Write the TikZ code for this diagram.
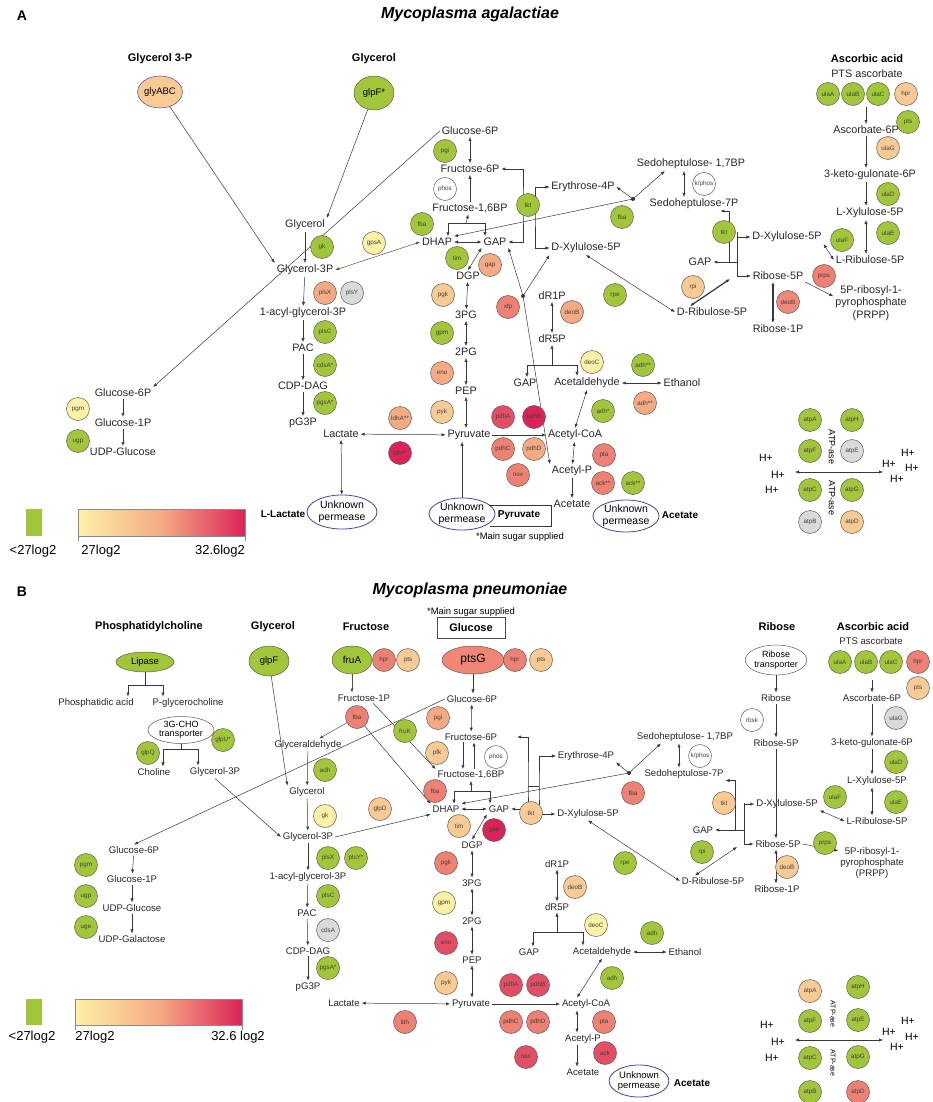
\documentclass[tikz,border=0pt]{standalone}
\usepackage{fontspec}
\setmainfont{Liberation Sans}
\usepackage{tikz}
\usetikzlibrary{arrows.meta,shapes.geometric,calc}
\definecolor{geneGreen}{RGB}{162,198,58}
\definecolor{geneGray}{RGB}{218,218,218}
\definecolor{lvYel}{RGB}{253,241,165}
\definecolor{lvOrL}{RGB}{250,202,148}
\definecolor{lvOr}{RGB}{245,170,132}
\definecolor{lvSal}{RGB}{238,128,116}
\definecolor{lvRed}{RGB}{228,78,100}
\definecolor{lvCrim}{RGB}{218,36,88}
\definecolor{lineDark}{RGB}{55,55,55}
\definecolor{rimGray}{RGB}{90,90,90}
\definecolor{permBlue}{RGB}{75,65,165}
\definecolor{rxBrown}{RGB}{100,80,45}
\newcommand{\fsA}{\fontsize{10.8}{12.5}\selectfont}
\newcommand{\fsB}{\fontsize{9.6}{11}\selectfont}
\tikzset{
  metA/.style={font=\fsA, inner sep=0.5pt, outer sep=1.5pt, text=black!85, align=center},
  metB/.style={font=\fsB, inner sep=0.5pt, outer sep=1.5pt, text=black!85, align=center},
  hdr/.style={font=\bfseries\fontsize{11}{13}\selectfont},
  sideLbl/.style={font=\bfseries\fontsize{10}{12}\selectfont},
  gene/.style={circle, draw=rimGray, line width=0.5pt, fill=white, minimum size=23pt,
    inner sep=0pt, font=\fontsize{6.3}{7}\selectfont, text=black!75},
  tport/.style={ellipse, draw=rimGray, line width=0.5pt, inner sep=0pt,
    font=\fontsize{9.5}{11}\selectfont, align=center},
  perm/.style={ellipse, draw=permBlue, line width=0.8pt, fill=white, inner sep=0pt, align=center},
  rx/.style={-{Latex[length=4pt,width=3.2pt]}, draw=lineDark, line width=0.5pt},
  rxx/.style={{Latex[length=4pt,width=3.2pt]}-{Latex[length=4pt,width=3.2pt]}, draw=lineDark, line width=0.5pt},
  ln/.style={draw=lineDark, line width=0.5pt},
  hion/.style={font=\fontsize{10.5}{12}\selectfont},
  legTxt/.style={font=\fontsize{13}{15}\selectfont}
}
\begin{document}
\begin{tikzpicture}[x=1pt, y=-1pt]
\useasboundingbox (0,0) rectangle (933,1102);

%%%%%%%%%%%%%%%% panel A
\node[font=\bfseries\fontsize{14}{16}\selectfont] (aLetter) at (22,16) {A};
\node[font=\bfseries\itshape\fontsize{16}{18}\selectfont] (aTitle) at (470,14) {Mycoplasma agalactiae};
\node[hdr] (aHdrG3P) at (160,59) {Glycerol 3-P};
\node[hdr] (aHdrGly) at (374,59) {Glycerol};
\node[hdr] (aHdrAsc) at (867,59) {Ascorbic acid};
\node[metA] (aPTS) at (867,74) {PTS ascorbate};

% metabolites
\node[metA] (aG6P)   at (470,131) {Glucose-6P};
\node[metA] (aF6P)   at (470,169) {Fructose-6P};
\node[metA] (aF16BP) at (470,208) {Fructose-1,6BP};
\node[metA] (aDHAP)  at (437,242) {DHAP};
\node[metA] (aGAP)   at (495,242) {GAP};
\node[metA] (aDGP)   at (468,276) {DGP};
\node[metA] (a3PG)   at (466,315) {3PG};
\node[metA] (a2PG)   at (466,352) {2PG};
\node[metA] (aPEP)   at (466,391) {PEP};
\node[metA] (aPyr)   at (469,435) {Pyruvate};
\node[metA] (aLac)   at (341,434) {Lactate};
\node[metA] (aAcCoA) at (575,435) {Acetyl-CoA};
\node[metA] (aAcP)   at (572,471) {Acetyl-P};
\node[metA] (aAce)   at (572,504) {Acetate};
\node[metA] (aGAP2)  at (525,383) {GAP};
\node[metA] (aAcald) at (587,383) {Acetaldehyde};
\node[metA] (aEtOH)  at (682,383) {Ethanol};
\node[metA] (adR1P)  at (552,296) {dR1P};
\node[metA] (adR5P)  at (552,339) {dR5P};
\node[metA] (aE4P)   at (583,187) {Erythrose-4P};
\node[metA] (aXu5P)  at (586,248) {D-Xylulose-5P};
\node[metA] (aS17BP) at (691,164) {Sedoheptulose- 1,7BP};
\node[metA] (aS7P)   at (694,204) {Sedoheptulose-7P};
\node[metA] (aGAP3)  at (700,262) {GAP};
\node[metA] (aXu5Pb) at (787,237) {D-Xylulose-5P};
\node[metA] (aR5P)   at (778,276) {Ribose-5P};
\node[metA] (aRu5P)  at (712,312) {D-Ribulose-5P};
\node[metA] (aR1P)   at (778,329) {Ribose-1P};
\node[metA] (aPRPP)  at (871,303) {5P-ribosyl-1-\\pyrophosphate\\(PRPP)};
\node[metA] (aAsc6P) at (866,130) {Ascorbate-6P};
\node[metA] (aKG6P)  at (870,175) {3-keto-gulonate-6P};
\node[metA] (aLXu5P) at (870,213) {L-Xylulose-5P};
\node[metA] (aLRu5P) at (870,260) {L-Ribulose-5P};
\node[metA] (aGlyc)  at (305,225) {Glycerol};
\node[metA] (aG3P)   at (305,270) {Glycerol-3P};
\node[metA] (aAGP)   at (303,313) {1-acyl-glycerol-3P};
\node[metA] (aPAC)   at (303,348) {PAC};
\node[metA] (aCDP)   at (303,386) {CDP-DAG};
\node[metA] (apG3P)  at (303,423) {pG3P};
\node[metA] (aG6Pl)  at (123,393) {Glucose-6P};
\node[metA] (aG1P)   at (123,423) {Glucose-1P};
\node[metA] (aUDPG)  at (123,452) {UDP-Glucose};

% transporters
\node[tport, fill=lvOrL, draw=permBlue, minimum width=40pt, minimum height=32pt] (aglyABC) at (160,92) {glyABC};
\node[tport, fill=geneGreen, minimum width=40pt, minimum height=34pt] (aglpF) at (374,93) {glpF*};
\node[perm, font=\fontsize{10.5}{11.5}\selectfont, minimum width=70pt, minimum height=34pt] (aPermL) at (342,512) {Unknown\\permease};
\node[perm, font=\fontsize{10.5}{11.5}\selectfont, minimum width=62pt, minimum height=32pt] (aPermP) at (462,514) {Unknown\\permease};
\node[perm, font=\fontsize{10.5}{11.5}\selectfont, minimum width=58pt, minimum height=32pt] (aPermA) at (626,516) {Unknown\\permease};
\node[sideLbl] (aLblLac) at (283,514) {L-Lactate};
\node[sideLbl] (aLblPyr) at (519,515) {Pyruvate};
\node[sideLbl] (aLblAce) at (680,515) {Acetate};
\node[font=\fontsize{9.4}{11}\selectfont] (aNote) at (520,537) {*Main sugar supplied};

% connectors
\coordinate (aBrM) at (466,223);
\coordinate (aBrL) at (448,223);
\coordinate (aBrR) at (485,223);
\coordinate (aBr2M) at (552,365);
\coordinate (aBr2L) at (527,365);
\coordinate (aBr2R) at (577,365);
\coordinate (aTkL) at (523,205);
\coordinate (aTkR) at (535,205);
\coordinate (aTk2L) at (729,232);
\coordinate (aTk2R) at (737,232);
\coordinate (aDot1) at (523,296);
\coordinate (aDot2) at (633,199);
\coordinate (aRuJ) at (730,279);
\coordinate (aAscIn) at (866,107);
\coordinate (aBoxTL) at (489,505);
\coordinate (aBoxBL) at (490,526);
\coordinate (aAtpL) at (795,472);
\coordinate (aAtpR) at (883,472);

\draw[rx] (aglyABC) -- (aG3P.north west);
\draw[rx] (aglpF) -- (aGlyc.north east);
\draw[rx] (aGlyc) -- (aG3P);
\draw[rx] (aG6P.west) -- (aG6Pl.north east);
\draw[rxx, draw=rxBrown] (aG3P.east) -- (aDHAP.west);
\draw[rx] (aG3P) -- (aAGP);
\draw[rx] (aAGP) -- (aPAC);
\draw[rx] (aPAC) -- (aCDP);
\draw[rx] (aCDP) -- (apG3P);
\draw[rx] (aG6Pl) -- (aG1P);
\draw[rx] (aG1P) -- (aUDPG);
\draw[rxx] (aG6P) -- (aF6P);
\draw[rx] (aF16BP) -- (aF6P);
\draw[ln] (aBrL) -- (aBrR);
\draw[rx] (aBrM) -- (aF16BP);
\draw[rx] (aBrL) -- (aBrL |- aDHAP.north);
\draw[rx] (aBrR) -- (aBrR |- aGAP.north);
\draw[rxx] (aDHAP) -- (aGAP);
\draw[rxx] (aGAP.south west) -- (aDGP.north);
\draw[rxx] (aDGP) -- (a3PG);
\draw[rxx] (a3PG) -- (a2PG);
\draw[rxx] (a2PG) -- (aPEP);
\draw[rxx] (aPEP) -- (aPEP |- aPyr.north);
\draw[rxx] (aLac) -- (aPyr);
\draw[rxx] (aLac) -- (aPermL);
\draw[rx] (aPermP) -- (aPermP |- aPyr.south);
\draw[ln] (aBoxTL) -- (aBoxTL -| aAce.west) -- (aBoxBL -| aAce.west) -- (aBoxBL);
\draw[rx] (aPyr) -- (aAcCoA);
\draw[rxx] (aAcCoA) -- (aAcP);
\draw[rx] (aAcP) -- (aAce);
\draw[rxx] (aAcald.south) -- (aAcCoA.north);
\draw[rxx] (aAcald) -- (aEtOH);
\draw[rxx] (adR1P) -- (adR5P);
\draw[rx] (aBr2M) -- (adR5P);
\draw[ln] (aBr2L) -- (aBr2R);
\draw[rx] (aBr2L) -- (aBr2L |- aGAP2.north);
\draw[rx] (aBr2R) -- (aBr2R |- aAcald.north);
\fill[lineDark] (aDot1) circle (2pt);
\draw[rx] (aDot1) -- (aGAP.south east);
\draw[rx] (aDot1) -- (aXu5P.south west);
\draw[rx] (aDot1) -- (aAcP.north west);
\draw[rxx] (aGAP.east) -| (aTkL) |- (aF6P.east);
\draw[rxx] (aE4P.west) -| (aTkR) |- (aXu5P.west);
\draw[ln] (aTkL) -- (aTkR);
\fill[lineDark] (aDot2) circle (2pt);
\draw[rx] (aDot2) -- (aDHAP.north east);
\draw[rx] (aDot2) -- (aE4P.east);
\draw[rx] (aDot2) -- (aS17BP.195);
\draw[rxx] ([xshift=-7pt]aS17BP.south) -- ([xshift=-10pt]aS7P.north);
\draw[rxx] (aGAP3.east) -| (aTk2L) |- ([xshift=-20pt]aS7P.south east);
\draw[rxx] (aXu5Pb.west) -| (aTk2R) |- (aR5P.west);
\draw[ln] (aTk2L |- aGAP3) -- (aTk2R |- aGAP3);
\draw[rxx, line width=1.2pt] ([xshift=-22pt]aRu5P.north) -- (aRuJ);
\draw[rxx] (aXu5P.south) -- (aRu5P.west);
\draw[rxx, line width=1.2pt] ([xshift=-5pt]aR5P.south) -- ([xshift=-5pt]aR1P.north);
\draw[rx] (aR5P.south east) -- (aPRPP.170);
\draw[rx] (aAscIn) -- (aAsc6P);
\draw[rx] (aAsc6P) -- (aAsc6P |- aKG6P.north);
\draw[rx] (aAsc6P |- aKG6P.south) -- (aAsc6P |- aLXu5P.north);
\draw[rxx] (aAsc6P |- aLXu5P.south) -- (aAsc6P |- aLRu5P.north);
\draw[rxx] (aLRu5P.west) -- (aXu5Pb.south east);
\draw[rxx] (aAtpL) -- (aAtpR);

% enzymes
\node[gene, fill=geneGreen] (apgi) at (445,151) {pgi};
\node[gene] (aphos) at (445,189) {phos};
\node[gene, fill=geneGreen] (afba) at (422,224) {fba};
\node[gene, fill=geneGreen] (atim) at (457,258) {tim};
\node[gene, fill=lvOr] (agap) at (490,265) {gap};
\node[gene, fill=lvOrL] (apgk) at (443,295) {pgk};
\node[gene, fill=geneGreen] (agpm) at (442,333) {gpm};
\node[gene, fill=lvOr] (aeno) at (442,373) {eno};
\node[gene, fill=lvOrL] (apyk) at (442,412) {pyk};
\node[gene, fill=lvOr] (aldhA) at (400,418) {ldhA**};
\node[gene, fill=lvCrim] (aldh) at (400,453) {ldh**};
\node[gene, fill=lvRed] (apdhA) at (503,417) {pdhA};
\node[gene, fill=lvCrim] (apdhB) at (534,417) {pdhB};
\node[gene, fill=lvSal] (apdhC) at (503,449) {pdhC};
\node[gene, fill=lvOr] (apdhD) at (534,449) {pdhD};
\node[gene, fill=lvSal] (anox) at (518,475) {nox};
\node[gene, fill=lvSal] (apta) at (604,455) {pta};
\node[gene, fill=lvSal] (aackA) at (603,483) {ack**};
\node[gene, fill=geneGreen] (aackB) at (633,483) {ack**};
\node[gene, fill=geneGreen] (aadhA) at (643,365) {adh**};
\node[gene, fill=lvOr] (aadhB) at (645,403) {adh**};
\node[gene, fill=geneGreen] (aadhC) at (603,411) {adh*};
\node[gene, fill=lvYel] (adeoC) at (592,362) {deoC};
\node[gene, fill=lvOr] (adeoB) at (572,312) {deoB};
\node[gene, fill=lvSal] (axfp) at (508,307) {xfp};
\node[gene, fill=geneGreen] (atkt) at (528,205) {tkt};
\node[gene, fill=geneGreen] (afbaB) at (622,217) {fba};
\node[gene, fill=geneGreen] (arpe) at (615,295) {rpe};
\node[gene] (akphos) at (704,184) {k/phos};
\node[gene, fill=geneGreen] (atktB) at (724,232) {tkt};
\node[gene, fill=lvOrL] (arpi) at (693,287) {rpi};
\node[gene, fill=lvSal] (aprps) at (824,276) {prps};
\node[gene, fill=lvSal!80!lvOr] (adeoBB) at (788,302) {deoB};
\node[gene, fill=geneGreen] (agk) at (322,247) {gk};
\node[gene, fill=lvYel] (agpsA) at (374,243) {gpsA};
\node[gene, fill=lvOr] (aplsX) at (325,293) {plsX};
\node[gene, fill=geneGray] (aplsY) at (352,293) {plsY};
\node[gene, fill=geneGreen] (aplsC) at (325,332) {plsC};
\node[gene, fill=geneGreen] (acdsA) at (325,365) {cdsA*};
\node[gene, fill=geneGreen] (apgsA) at (325,403) {pgsA*};
\node[gene, fill=lvYel] (apgm) at (78,409) {pgm};
\node[gene, fill=geneGreen] (augp) at (78,441) {ugp};
\node[gene, fill=geneGreen] (aulaA) at (828,94) {ulaA};
\node[gene, fill=geneGreen] (aulaB) at (853,94) {ulaB};
\node[gene, fill=geneGreen] (aulaC) at (878,94) {ulaC};
\node[gene, fill=lvOrL] (ahpr) at (906,94) {hpr};
\node[gene, fill=geneGreen] (apts) at (908,122) {pts};
\node[gene, fill=lvOrL] (aulaG) at (888,148) {ulaG};
\node[gene, fill=geneGreen] (aulaD) at (888,194) {ulaD};
\node[gene, fill=geneGreen] (aulaE) at (888,233) {ulaE};
\node[gene, fill=geneGreen] (aulaF) at (842,240) {ulaF};
\node[gene, fill=geneGreen] (aatpA) at (810,420) {atpA};
\node[gene, fill=geneGreen] (aatpH) at (852,420) {atpH};
\node[gene, fill=geneGreen] (aatpF) at (810,451) {atpF};
\node[gene, fill=geneGray] (aatpE) at (852,451) {atpE};
\node[gene, fill=geneGreen] (aatpC) at (810,490) {atpC};
\node[gene, fill=geneGreen] (aatpG) at (852,490) {atpG};
\node[gene, fill=geneGray] (aatpB) at (810,522) {atpB};
\node[gene, fill=lvOrL] (aatpD) at (852,522) {atpD};
\node[rotate=-90, font=\fontsize{9}{10}\selectfont] (aAtpT1) at (832,447) {ATP-ase};
\node[rotate=-90, font=\fontsize{9}{10}\selectfont] (aAtpT2) at (832,498) {ATP-ase};
\node[hion] (aH1) at (766,458) {H+};
\node[hion] (aH2) at (778,475) {H+};
\node[hion] (aH3) at (772,490) {H+};
\node[hion] (aH4) at (908,453) {H+};
\node[hion] (aH5) at (889,464) {H+};
\node[hion] (aH6) at (912,468) {H+};
\node[hion] (aH7) at (897,479) {H+};

% legend
\fill[geneGreen] (26,509) rectangle (42,536);
\shade[left color=lvYel, right color=lvCrim, middle color=lvOr] (78,509) rectangle (245,536);
\draw[black!45, line width=0.5pt] (78,509) rectangle (245,536);
\draw[black!45, line width=0.5pt] (78,536) -- (78,541) (245,536) -- (245,541);
\node[legTxt] (aLeg1) at (33,551) {<27log2};
\node[legTxt] (aLeg2) at (101,551) {27log2};
\node[legTxt] (aLeg3) at (220,551) {32.6log2};

%%%%%%%%%%%%%%%% panel B
\node[font=\bfseries\fontsize{14}{16}\selectfont] (bLetter) at (22,592) {B};
\node[font=\bfseries\itshape\fontsize{16}{18}\selectfont] (bTitle) at (470,590) {Mycoplasma pneumoniae};
\node[hdr] (bHdrPC) at (149,627) {Phosphatidylcholine};
\node[hdr] (bHdrGly) at (273,627) {Glycerol};
\node[hdr] (bHdrFru) at (366,627) {Fructose};
\node[hdr] (bHdrRib) at (777,627) {Ribose};
\node[hdr] (bHdrAsc) at (873,627) {Ascorbic acid};
\node[metB] (bPTS) at (871,641) {PTS ascorbate};
\node[font=\fontsize{9.4}{11}\selectfont] (bNote) at (471,612) {*Main sugar supplied};
\node[hdr, draw=black!70, line width=0.6pt, minimum width=68pt, minimum height=21pt] (bGlcBox) at (471,628) {Glucose};

% metabolites
\node[metB] (bG6P)   at (472,699) {Glucose-6P};
\node[metB] (bF6P)   at (471,737) {Fructose-6P};
\node[metB] (bF16BP) at (471,775) {Fructose-1,6BP};
\node[metB] (bDHAP)  at (446,809) {DHAP};
\node[metB] (bGAP)   at (499,809) {GAP};
\node[metB] (bDGP)   at (472,845) {DGP};
\node[metB] (b3PG)   at (472,883) {3PG};
\node[metB] (b2PG)   at (472,921) {2PG};
\node[metB] (bPEP)   at (472,960) {PEP};
\node[metB] (bPyr)   at (471,1004) {Pyruvate};
\node[metB] (bLac)   at (344,1003) {Lactate};
\node[metB] (bAcCoA) at (586,1004) {Acetyl-CoA};
\node[metB] (bAcP)   at (583,1039) {Acetyl-P};
\node[metB] (bAce)   at (583,1072) {Acetate};
\node[metB] (bGAP2)  at (529,952) {GAP};
\node[metB] (bAcald) at (602,952) {Acetaldehyde};
\node[metB] (bEtOH)  at (685,952) {Ethanol};
\node[metB] (bdR1P)  at (557,864) {dR1P};
\node[metB] (bdR5P)  at (557,907) {dR5P};
\node[metB] (bE4P)   at (586,756) {Erythrose-4P};
\node[metB] (bXu5P)  at (588,814) {D-Xylulose-5P};
\node[metB] (bS17BP) at (685,737) {Sedoheptulose- 1,7BP};
\node[metB] (bS7P)   at (684,774) {Sedoheptulose-7P};
\node[metB] (bGAP3)  at (703,830) {GAP};
\node[metB] (bXu5Pb) at (787,804) {D-Xylulose-5P};
\node[metB] (bR5P)   at (778,844) {Ribose-5P};
\node[metB] (bRu5P)  at (713,881) {D-Ribulose-5P};
\node[metB] (bR1P)   at (777,889) {Ribose-1P};
\node[metB] (bPRPP)  at (872,863) {5P-ribosyl-1-\\pyrophosphate\\(PRPP)};
\node[metB] (bRib)   at (776,698) {Ribose};
\node[metB] (bR5Pt)  at (776,743) {Ribose-5P};
\node[metB] (bAsc6P) at (872,698) {Ascorbate-6P};
\node[metB] (bKG6P)  at (872,743) {3-keto-gulonate-6P};
\node[metB] (bLXu5P) at (877,781) {L-Xylulose-5P};
\node[metB] (bLRu5P) at (877,821) {L-Ribulose-5P};
\node[metB] (bF1P)   at (364,698) {Fructose-1P};
\node[metB] (bGald)  at (308,745) {Glyceraldehyde};
\node[metB] (bGlyc)  at (307,792) {Glycerol};
\node[metB] (bG3P)   at (308,837) {Glycerol-3P};
\node[metB] (bAGP)   at (308,877) {1-acyl-glycerol-3P};
\node[metB] (bPAC)   at (307,913) {PAC};
\node[metB] (bCDP)   at (308,951) {CDP-DAG};
\node[metB] (bpG3P)  at (308,987) {pG3P};
\node[metB] (bPA)    at (96,703) {Phosphatidic acid};
\node[metB] (bPGC)   at (188,703) {P-glycerocholine};
\node[metB] (bCho)   at (154,772) {Choline};
\node[metB] (bG3Pl)  at (215,772) {Glycerol-3P};
\node[metB] (bG6Pl)  at (134,850) {Glucose-6P};
\node[metB] (bG1P)   at (132,879) {Glucose-1P};
\node[metB] (bUDPG)  at (132,908) {UDP-Glucose};
\node[metB] (bUDPGal) at (132,939) {UDP-Galactose};

% transporters
\node[tport, fill=geneGreen, minimum width=58pt, minimum height=20pt] (bLipase) at (145,662) {Lipase};
\node[tport, fill=white, minimum width=66pt, minimum height=27pt, font=\fontsize{9}{9.5}\selectfont] (bCHO) at (181,730) {3G-CHO\\transporter};
\node[tport, fill=geneGreen, minimum width=40pt, minimum height=30pt] (bglpF) at (269,661) {glpF};
\node[tport, fill=geneGreen, minimum width=40pt, minimum height=28pt, font=\fontsize{10}{11}\selectfont] (bfruA) at (352,660) {fruA};
\node[tport, fill=lvSal!85!lvOr, minimum width=62pt, minimum height=28pt, font=\fontsize{12}{13}\selectfont] (bptsG) at (473,660) {ptsG};
\node[tport, fill=white, minimum width=56pt, minimum height=30pt, font=\fontsize{9}{10}\selectfont] (bRibT) at (776,660) {Ribose\\transporter};
\node[perm, font=\fontsize{9.5}{10.5}\selectfont, minimum width=56pt, minimum height=32pt] (bPermA) at (639,1081) {Unknown\\permease};
\node[sideLbl] (bLblAce) at (692,1083) {Acetate};

% connectors
\coordinate (bLpM) at (145,685);
\coordinate (bLpL) at (128,685);
\coordinate (bLpR) at (163,685);
\coordinate (bChM) at (181,749);
\coordinate (bChL) at (163,749);
\coordinate (bChR) at (198,749);
\coordinate (bBrM) at (471,791);
\coordinate (bBrL) at (454,791);
\coordinate (bBrR) at (490,791);
\coordinate (bBr2M) at (557,932);
\coordinate (bBr2L) at (533,932);
\coordinate (bBr2R) at (583,932);
\coordinate (bTkL) at (528,786);
\coordinate (bTkR) at (539,786);
\coordinate (bTk2L) at (735,803);
\coordinate (bTk2R) at (744,803);
\coordinate (bDot) at (629,773);
\coordinate (bRuJ) at (737,847);
\coordinate (bAscIn) at (872,680);
\coordinate (bAtpL) at (795,1040);
\coordinate (bAtpR) at (883,1040);

\draw[ln] (bLipase) -- (bLpM);
\draw[ln] (bLpL) -- (bLpR);
\draw[rx] (bLpL) -- (bLpL |- bPA.north);
\draw[rx] (bLpR) -- (bLpR |- bPGC.north);
\draw[ln] (bCHO) -- (bChM);
\draw[ln] (bChL) -- (bChR);
\draw[rx] (bChL) -- (bChL |- bCho.north);
\draw[rx] (bChR) -- (bChR |- bG3Pl.north);
\draw[rx] (bG3Pl.south) -- (bG3P.west);
\draw[rx] (bglpF) -- (bGlyc.north west);
\draw[rx] (bGald) -- (bGlyc);
\draw[rx] (bGlyc) -- (bG3P);
\draw[rx] (bG6P.west) -- (bG6Pl.north);
\draw[rx] (bG3P.east) -- (bDHAP.south west);
\draw[rx, draw=rxBrown] (bfruA.south) -- (bfruA.south |- bF1P.north);
\draw[rx] (bptsG) -- (bptsG |- bG6P.north);
\draw[rxx] (bG6P) -- (bF6P);
\draw[rx] ([xshift=-8pt]bF6P.south) -- ([xshift=-8pt]bF16BP.north);
\draw[rx] ([xshift=3pt]bF16BP.north) -- ([xshift=3pt]bF6P.south);
\draw[ln] (bBrL) -- (bBrR);
\draw[rx] (bBrM) -- (bF16BP);
\draw[rx] (bBrL) -- (bBrL |- bDHAP.north);
\draw[rx] (bBrR) -- (bBrR |- bGAP.north);
\draw[rxx] (bDHAP) -- (bGAP);
\draw[rxx] (bGAP.south west) -- (bDGP.north);
\draw[rxx] (bDGP) -- (b3PG);
\draw[rxx] (b3PG) -- (b2PG);
\draw[rxx] (b2PG) -- (bPEP);
\draw[rxx] (bPEP) -- (bPEP |- bPyr.north);
\draw[rxx] (bLac) -- (bPyr);
\draw[rx] (bPyr) -- (bAcCoA);
\draw[rxx] ([xshift=-9pt]bAcCoA.south) -- ([xshift=-6pt]bAcP.north);
\draw[rx] ([xshift=-6pt]bAcP.south) -- ([xshift=-6pt]bAce.north);
\draw[rxx] (bAcald.south) -- ([xshift=-9pt]bAcCoA.north);
\draw[rxx] (bAcald) -- (bEtOH);
\draw[rxx] (bdR1P) -- (bdR5P);
\draw[rx] (bBr2M) -- (bdR5P);
\draw[ln] (bBr2L) -- (bBr2R);
\draw[rx] (bBr2L) -- (bBr2L |- bGAP2.north);
\draw[rx] (bBr2R) -- (bBr2R |- bAcald.north);
\draw[rxx] (bGAP.east) -| (bTkL) |- ([xshift=18pt]bF6P.east);
\draw[rxx] (bE4P.west) -| (bTkR) |- (bXu5P.west);
\draw[ln] (bTkL) -- (bTkR);
\fill[lineDark] (bDot) circle (2pt);
\draw[rx] (bDot) -- (bDHAP.north east);
\draw[rx] (bDot) -- (bE4P.south east);
\draw[rx] (bDot) -- (bS17BP.195);
\draw[rxx] ([xshift=-6pt]bS17BP.south) -- ([xshift=-5pt]bS7P.north);
\draw[rxx] (bGAP3.east) -| (bTk2L) |- (bS7P.south east);
\draw[rxx] (bXu5Pb.west) -| (bTk2R) |- (bR5P.west);
\draw[ln] (bTk2L |- bGAP3) -- (bTk2R |- bGAP3);
\draw[rxx] ([xshift=-18pt]bRu5P.north) -- (bRuJ);
\draw[rxx] (bXu5P.south) -- (bRu5P.west);
\draw[rx] (bRibT) -- (bRib);
\draw[rx] (bRib) -- (bR5Pt);
\draw[rx] (bR5Pt) -- (bR5Pt |- bR5P.north);
\draw[rxx] (bR5Pt |- bR5P.south) -- (bR5Pt |- bR1P.north);
\draw[rx] (bR5P.east) -- (bPRPP.160);
\draw[rx] (bAscIn) -- (bAsc6P);
\draw[rx] (bAsc6P) -- (bKG6P);
\draw[rx] (bKG6P) -- (bAsc6P |- bLXu5P.north);
\draw[rxx] (bAsc6P |- bLXu5P.south) -- (bAsc6P |- bLRu5P.north);
\draw[rxx] (bLRu5P.west) -- (bXu5Pb.south east);
\draw[rx] (bG3P) -- (bAGP);
\draw[rx] (bAGP) -- (bPAC);
\draw[rx] (bPAC) -- (bCDP);
\draw[rx] (bCDP) -- (bpG3P);
\draw[rx] (bG6Pl) -- (bG1P);
\draw[rx] (bG1P) -- (bUDPG);
\draw[rx] (bUDPG) -- (bUDPGal);
\draw[rxx] (bAtpL) -- (bAtpR);

% enzymes
\node[gene, fill=lvSal] (bhprA) at (384,660) {hpr};
\node[gene, fill=lvOrL] (bptsA) at (408,660) {pts};
\node[gene, fill=lvSal] (bhprB) at (515,660) {hpr};
\node[gene, fill=lvOrL] (bptsB) at (541,660) {pts};
\node[gene, fill=lvSal] (bfbaA) at (357,717) {fba};
\draw[rx, draw=rxBrown] (bfbaA) -- (bGald.30);
\draw[rx] (bfbaA) -- (bDHAP.north west);
\draw[rx] (bF1P.-30) -- (bF16BP.north west);
\node[gene, fill=geneGreen] (bfruK) at (405,731) {fruK};
\node[gene, fill=lvOr] (bpgi) at (438,718) {pgi};
\node[gene, fill=lvOrL] (bpfk) at (437,753) {pfk};
\node[gene] (bphos) at (496,757) {phos};
\node[gene, fill=lvSal] (bfbaB) at (435,791) {fba};
\node[gene, fill=lvOrL] (btim) at (459,826) {tim};
\node[gene, fill=lvCrim] (bgap) at (494,830) {gap};
\node[gene, fill=lvOrL] (btktA) at (531,813) {tkt};
\node[gene, fill=lvSal] (bfbaC) at (633,793) {fba};
\node[gene] (bkphos) at (700,756) {k/phos};
\node[gene, fill=lvOrL] (btktB) at (724,803) {tkt};
\node[gene, fill=geneGreen] (brpi) at (702,852) {rpi};
\node[gene, fill=geneGreen] (brpe) at (625,863) {rpe};
\node[gene, fill=geneGreen] (bprps) at (825,843) {prps};
\node[gene, fill=lvOrL] (bdeoBB) at (787,867) {deoB};
\node[gene] (brbsk) at (752,720) {rbsk};
\node[gene, fill=geneGreen] (bulaA) at (840,662) {ulaA};
\node[gene, fill=geneGreen] (bulaB) at (866,662) {ulaB};
\node[gene, fill=geneGreen] (bulaC) at (891,662) {ulaC};
\node[gene, fill=lvSal] (bhprC) at (918,662) {hpr};
\node[gene, fill=lvOrL] (bptsC) at (918,688) {pts};
\node[gene, fill=geneGray] (bulaG) at (896,718) {ulaG};
\node[gene, fill=geneGreen] (bulaD) at (896,762) {ulaD};
\node[gene, fill=geneGreen] (bulaE) at (896,802) {ulaE};
\node[gene, fill=geneGreen] (bulaF) at (835,797) {ulaF};
\node[gene, fill=geneGreen] (badhA) at (325,770) {adh};
\node[gene, fill=lvYel] (bgk) at (325,816) {gk};
\node[gene, fill=lvOrL] (bglpD) at (380,809) {glpD};
\node[gene, fill=geneGreen] (bglpU) at (223,740) {glpU*};
\node[gene, fill=geneGreen] (bglpQ) at (148,753) {glpQ};
\node[gene, fill=geneGreen] (bplsX) at (328,858) {plsX};
\node[gene, fill=geneGreen] (bplsY) at (356,858) {plsY*};
\node[gene, fill=geneGreen] (bplsC) at (328,896) {plsC};
\node[gene, fill=geneGray] (bcdsA) at (328,930) {cdsA};
\node[gene, fill=geneGreen] (bpgsA) at (328,968) {pgsA*};
\node[gene, fill=geneGreen] (bpgm) at (86,865) {pgm};
\node[gene, fill=geneGreen] (bugp) at (86,896) {ugp};
\node[gene, fill=geneGreen] (buge) at (86,927) {uge};
\node[gene, fill=lvSal] (bpgk) at (446,863) {pgk};
\node[gene, fill=lvYel] (bgpm) at (444,903) {gpm};
\node[gene, fill=lvRed] (beno) at (446,943) {eno};
\node[gene, fill=lvOrL] (bpyk) at (446,983) {pyk};
\node[gene, fill=lvSal] (bldh) at (405,1022) {ldh};
\node[gene, fill=lvRed] (bpdhA) at (511,985) {pdhA};
\node[gene, fill=lvRed] (bpdhB) at (538,985) {pdhB};
\node[gene, fill=lvSal] (bpdhC) at (511,1022) {pdhC};
\node[gene, fill=lvSal] (bpdhD) at (538,1022) {pdhD};
\node[gene, fill=lvRed] (bnox) at (526,1057) {nox};
\node[gene, fill=lvOrL] (bdeoB) at (575,887) {deoB};
\node[gene, fill=lvYel] (bdeoC) at (596,925) {deoC};
\node[gene, fill=geneGreen] (badhB) at (652,933) {adh};
\node[gene, fill=geneGreen] (badhC) at (612,978) {adh};
\node[gene, fill=lvSal] (bpta) at (604,1022) {pta};
\node[gene, fill=lvRed] (back) at (605,1053) {ack};
\node[gene, fill=lvOrL] (batpA) at (810,991) {atpA};
\node[gene, fill=geneGreen] (batpH) at (858,987) {atpH};
\node[gene, fill=geneGreen] (batpF) at (810,1021) {atpF};
\node[gene, fill=geneGreen] (batpE) at (858,1020) {atpE};
\node[gene, fill=geneGreen] (batpC) at (810,1058) {atpC};
\node[gene, fill=geneGreen] (batpG) at (858,1057) {atpG};
\node[gene, fill=geneGreen] (batpB) at (810,1092) {atpB};
\node[gene, fill=lvSal] (batpD) at (858,1092) {atpD};
\node[rotate=-90, font=\fontsize{7}{8}\selectfont] (bAtpT1) at (833,1014) {ATP-ase};
\node[rotate=-90, font=\fontsize{7}{8}\selectfont] (bAtpT2) at (833,1063) {ATP-ase};
\node[hion] (bH1) at (767,1025) {H+};
\node[hion] (bH2) at (778,1042) {H+};
\node[hion] (bH3) at (772,1058) {H+};
\node[hion] (bH4) at (908,1021) {H+};
\node[hion] (bH5) at (889,1032) {H+};
\node[hion] (bH6) at (912,1037) {H+};
\node[hion] (bH7) at (897,1047) {H+};

% legend
\fill[geneGreen] (26,999) rectangle (42,1025);
\shade[left color=lvYel, right color=lvCrim, middle color=lvOr] (75,999) rectangle (242,1025);
\draw[black!45, line width=0.5pt] (75,999) rectangle (242,1025);
\draw[black!45, line width=0.5pt] (75,1025) -- (75,1030) (242,1025) -- (242,1030);
\node[legTxt] (bLeg1) at (32,1037) {<27log2};
\node[legTxt] (bLeg2) at (95,1037) {27log2};
\node[legTxt] (bLeg3) at (238,1037) {32.6 log2};
\end{tikzpicture}
\end{document}
